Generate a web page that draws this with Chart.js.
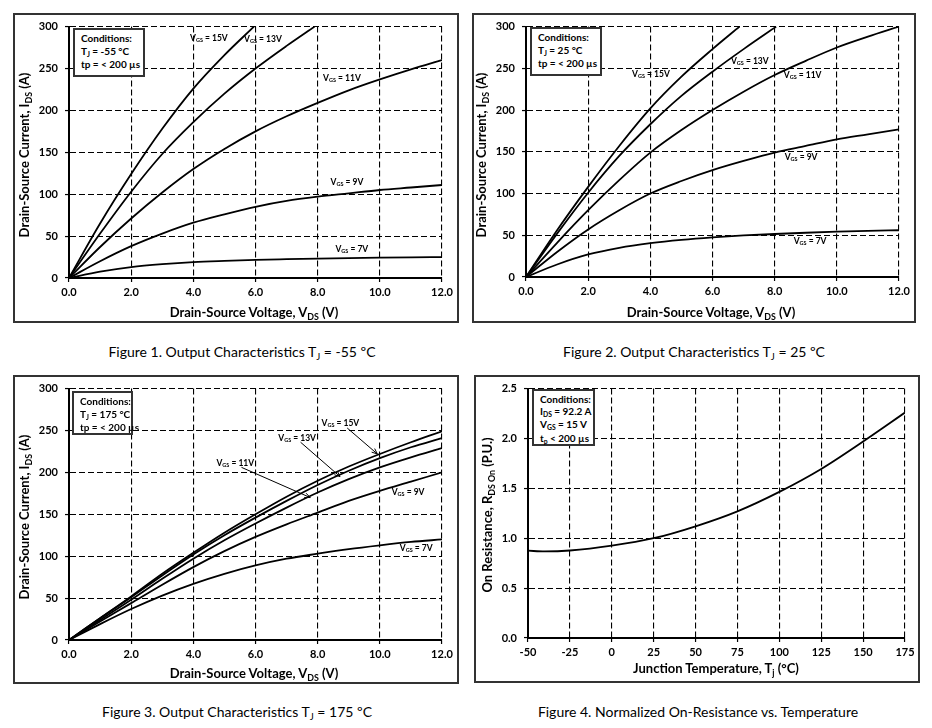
<!DOCTYPE html>
<html><head><meta charset="utf-8">
<script src="https://cdn.jsdelivr.net/npm/chart.js@4.4.0/dist/chart.umd.min.js"></script>
<style>
html,body{margin:0;padding:0;background:#fff;}
body{width:932px;height:728px;position:relative;overflow:hidden;font-family:Lato,sans-serif;color:#000;}
.panel{position:absolute;border:2px solid #333;box-sizing:border-box;}
canvas{position:absolute;}
.cond{position:absolute;border:2px solid #333;background:#fff;box-sizing:border-box;font:bold 10px Lato;line-height:12.5px;padding:2px 0 0 6px;white-space:nowrap;}
.xt{position:absolute;font:bold 13px Lato;transform:translate(-50%,-50%);white-space:nowrap;}
.yt{position:absolute;font:bold 13px Lato;transform:translate(-50%,-50%) rotate(-90deg);white-space:nowrap;}
.cap{position:absolute;font:14px Lato;transform:translate(-50%,-50%);white-space:nowrap;}
.s{font-size:0.68em;position:relative;top:0.3em;}
</style>
</head><body>
<div class="panel" style="left:13px;top:13px;width:446px;height:310px"></div>
<div class="panel" style="left:472px;top:13px;width:444px;height:310px"></div>
<div class="panel" style="left:13px;top:375px;width:446px;height:309px"></div>
<div class="panel" style="left:474px;top:375px;width:446px;height:308px"></div>
<canvas id="c1"></canvas><canvas id="c2"></canvas><canvas id="c3"></canvas><canvas id="c4"></canvas>

<div class="cond" style="left:73px;top:28px;width:72px;height:49px">Conditions:<br>T<span class="s">J</span> = -55 °C<br>tp = &lt; 200 µs</div>
<div class="cond" style="left:530px;top:27px;width:72px;height:49px">Conditions:<br>T<span class="s">J</span> = 25 °C<br>tp = &lt; 200 µs</div>
<div class="cond" style="left:72px;top:391px;width:61px;height:44px;overflow:visible">Conditions:<br>T<span class="s">J</span> = 175 °C<br>tp = &lt; 200 µs</div>
<div class="cond" style="left:532px;top:389px;width:63px;height:57px;line-height:12.2px">Conditions:<br>I<span class="s">DS</span> = 92.2 A<br>V<span class="s">GS</span> = 15 V<br>t<span class="s">p</span> &lt; 200 µs</div>

<div class="xt" style="left:254px;top:312px">Drain-Source Voltage, V<span class="s">DS</span> (V)</div>
<div class="yt" style="left:24px;top:155px">Drain-Source Current, I<span class="s">DS</span> (A)</div>
<div class="xt" style="left:711px;top:312px">Drain-Source Voltage, V<span class="s">DS</span> (V)</div>
<div class="yt" style="left:481px;top:155px">Drain-Source Current, I<span class="s">DS</span> (A)</div>
<div class="xt" style="left:254px;top:673px">Drain-Source Voltage, V<span class="s">DS</span> (V)</div>
<div class="yt" style="left:24px;top:517px">Drain-Source Current, I<span class="s">DS</span> (A)</div>
<div class="xt" style="left:716px;top:668px">Junction Temperature, T<span class="s">j</span> (°C)</div>
<div class="yt" style="left:487px;top:515px">On Resistance, R<span class="s">DS On</span> (P.U.)</div>

<div class="cap" style="left:242px;top:351px">Figure 1. Output Characteristics T<span class="s">J</span> = -55 ºC</div>
<div class="cap" style="left:694px;top:351px">Figure 2. Output Characteristics T<span class="s">J</span> = 25 ºC</div>
<div class="cap" style="left:237px;top:711px">Figure 3. Output Characteristics T<span class="s">J</span> = 175 ºC</div>
<div class="cap" style="left:698px;top:711px">Figure 4. Normalized On-Resistance vs. Temperature</div>

<script>
// ---------- DATA ----------
const vdsTicks = [0, 2, 4, 6, 8, 10, 12];
const idsTicks = [0, 50, 100, 150, 200, 250, 300];
const vds = [0, 1, 2, 3, 4, 5, 6, 7, 8, 9, 10, 11, 12];

// Figure 1: Tj = -55 C
const f1_v15 = [0, 1, 2, 3, 4, 5, 5.95];
const f1_i15 = [0, 65, 124, 178, 226, 266, 300];
const f1_v13 = [0, 1, 2, 3, 4, 5, 6, 7, 7.9];
const f1_i13 = [0, 53, 103, 148, 186, 220, 250, 277, 300];
const f1_i11 = [0, 37, 71, 102, 130, 154, 175, 193, 209, 224, 237, 249, 260];
const f1_i9  = [0, 20, 38, 53, 66, 76, 85, 92, 97, 101, 105, 108, 111];
const f1_i7  = [0, 7.5, 13, 16.5, 19, 20.5, 21.7, 22.5, 23.2, 23.8, 24.3, 24.7, 25];

// Figure 2: Tj = 25 C
const f2_v15 = [0, 1, 2, 3, 4, 5, 6, 6.87];
const f2_i15 = [0, 56, 108, 157, 202, 240, 273, 300];
const f2_v13 = [0, 1, 2, 3, 4, 5, 6, 7, 8.05];
const f2_i13 = [0, 52, 101, 145, 183, 217, 246, 273, 300];
const f2_i11 = [0, 41, 80, 116, 149, 176, 200, 222, 242, 259, 275, 288, 300];
const f2_i9  = [0, 30, 57, 80, 100, 115, 128, 139, 149, 157, 165, 171, 177];
const f2_i7  = [0, 15, 27, 35, 40.5, 44.5, 47.5, 49.8, 51.5, 53, 54.3, 55.3, 56];

// Figure 3: Tj = 175 C
const f3_i15 = [0, 26, 52, 79, 104, 128, 150, 171, 190, 207, 222, 236, 249];
const f3_i13 = [0, 26, 51, 77, 102, 125, 146, 166, 185, 202, 217, 230, 241];
const f3_i11 = [0, 24, 48, 73, 97, 119, 139, 158, 176, 192, 206, 218, 229];
const f3_i9  = [0, 22, 44, 66, 87, 106, 123, 138, 152, 166, 178, 189, 200];
const f3_i7  = [0, 19, 37, 53, 67, 79, 89, 97, 103, 108.5, 113, 117, 120];

// Figure 4: normalized on-resistance
const f4_temp = [-50, -40, -25, 0, 25, 50, 75, 100, 125, 150, 175];
const f4_rdson = [0.875, 0.868, 0.877, 0.925, 1.0, 1.12, 1.27, 1.465, 1.695, 1.97, 2.26];
const tempTicks = [-50, -25, 0, 25, 50, 75, 100, 125, 150, 175];
const rTicks = [0, 0.5, 1.0, 1.5, 2.0, 2.5];

const vgsNames = ['15V', '13V', '11V', '9V', '7V'];

// ---------- helpers ----------
function pts(xs, ys) { return xs.map((x, i) => ({ x: x, y: ys[i] })); }
function ds(xs, ys) {
  return { data: pts(xs, ys), borderColor: '#000', borderWidth: 1.8, pointRadius: 0,
           cubicInterpolationMode: 'monotone', fill: false };
}

const labelPlugin = {
  id: 'curveLabels',
  afterDatasetsDraw(chart, args, opts) {
    const items = opts.items || [];
    const ctx = chart.ctx, xs = chart.scales.x, ys = chart.scales.y;
    ctx.save();
    ctx.fillStyle = '#000'; ctx.strokeStyle = '#000';
    for (const it of items) {
      if (it.arrow) {
        const a = it.arrow;
        const x1 = xs.getPixelForValue(a[0]), y1 = ys.getPixelForValue(a[1]);
        const x2 = xs.getPixelForValue(a[2]), y2 = ys.getPixelForValue(a[3]);
        ctx.lineWidth = 1;
        ctx.beginPath(); ctx.moveTo(x1, y1); ctx.lineTo(x2, y2); ctx.stroke();
        const ang = Math.atan2(y2 - y1, x2 - x1), L = 6;
        ctx.beginPath();
        ctx.moveTo(x2 - L * Math.cos(ang - 0.4), y2 - L * Math.sin(ang - 0.4));
        ctx.lineTo(x2, y2);
        ctx.lineTo(x2 - L * Math.cos(ang + 0.4), y2 - L * Math.sin(ang + 0.4));
        ctx.stroke();
      }
      const px = xs.getPixelForValue(it.x), py = ys.getPixelForValue(it.y);
      const big = 'bold 8.5px Lato', small = 'bold 5.5px Lato';
      const t1 = 'V', t2 = 'GS', t3 = ' = ' + it.t;
      ctx.font = big; const w1 = ctx.measureText(t1).width, w3 = ctx.measureText(t3).width;
      ctx.font = small; const w2 = ctx.measureText(t2).width;
      let x = px - (w1 + w2 + w3) / 2;
      ctx.textBaseline = 'middle'; ctx.textAlign = 'left';
      ctx.font = big; ctx.fillText(t1, x, py); x += w1;
      ctx.font = small; ctx.fillText(t2, x, py + 2); x += w2;
      ctx.font = big; ctx.fillText(t3, x, py);
    }
    ctx.restore();
  }
};

function makeChart(id, rect, area, xCfg, yCfg, datasets, labels) {
  const cv = document.getElementById(id);
  cv.width = rect.w; cv.height = rect.h;
  cv.style.left = rect.x + 'px'; cv.style.top = rect.y + 'px';
  const padTop = area.t - rect.y, padRight = rect.x + rect.w - area.r;
  const yW = area.l - rect.x, xH = rect.y + rect.h - area.b;
  const gridCommon = { color: '#000', lineWidth: 1.1, tickLength: 4, tickColor: '#000', tickWidth: 1.2 };
  const borderCommon = { display: true, color: '#000', width: 2, dash: [6, 3] };
  new Chart(cv, {
    type: 'line',
    data: { datasets: datasets },
    options: {
      responsive: false, animation: false, devicePixelRatio: 1,
      layout: { padding: { top: padTop, right: padRight, left: 0, bottom: 0 } },
      plugins: { legend: { display: false }, tooltip: { enabled: false }, curveLabels: { items: labels } },
      scales: {
        x: {
          type: 'linear', min: xCfg.min, max: xCfg.max,
          afterBuildTicks: s => { s.ticks = xCfg.ticks.map(v => ({ value: v })); },
          ticks: { color: '#000', font: { family: 'Lato', size: 11, weight: 'bold' }, padding: 4,
                   maxRotation: 0, autoSkip: false, callback: xCfg.fmt },
          grid: gridCommon, border: borderCommon,
          afterFit: s => { s.height = xH; }
        },
        y: {
          type: 'linear', min: yCfg.min, max: yCfg.max,
          afterBuildTicks: s => { s.ticks = yCfg.ticks.map(v => ({ value: v })); },
          ticks: { color: '#000', font: { family: 'Lato', size: 11, weight: 'bold' }, padding: 7,
                   autoSkip: false, callback: yCfg.fmt },
          grid: gridCommon, border: borderCommon,
          afterFit: s => { s.width = yW; }
        }
      }
    },
    plugins: [labelPlugin]
  });
}

const xV = { min: 0, max: 12, ticks: vdsTicks, fmt: v => Number(v).toFixed(1) };
const yI = { min: 0, max: 300, ticks: idsTicks, fmt: v => String(v) };

makeChart('c1', { x: 13, y: 13, w: 446, h: 310 }, { l: 69, r: 442, t: 25, b: 278 }, xV, yI, [
  ds(f1_v15, f1_i15), ds(f1_v13, f1_i13), ds(vds, f1_i11), ds(vds, f1_i9), ds(vds, f1_i7)
], [
  { x: 4.5, y: 286, t: vgsNames[0] }, { x: 6.24, y: 285, t: vgsNames[1] },
  { x: 8.78, y: 238, t: vgsNames[2] }, { x: 8.94, y: 114, t: vgsNames[3] },
  { x: 9.1, y: 34, t: vgsNames[4] }
]);

makeChart('c2', { x: 472, y: 13, w: 444, h: 310 }, { l: 526, r: 899, t: 24, b: 277 }, xV, yI, [
  ds(f2_v15, f2_i15), ds(f2_v13, f2_i13), ds(vds, f2_i11), ds(vds, f2_i9), ds(vds, f2_i7)
], [
  { x: 4.02, y: 243, t: vgsNames[0] }, { x: 7.2, y: 258, t: vgsNames[1] },
  { x: 8.9, y: 242, t: vgsNames[2] }, { x: 8.85, y: 143, t: vgsNames[3] },
  { x: 9.14, y: 43, t: vgsNames[4] }
]);

makeChart('c3', { x: 13, y: 375, w: 446, h: 309 }, { l: 69, r: 442, t: 387, b: 640 }, xV, yI, [
  ds(vds, f3_i15), ds(vds, f3_i13), ds(vds, f3_i11), ds(vds, f3_i9), ds(vds, f3_i7)
], [
  { x: 8.73, y: 259, t: vgsNames[0], arrow: [8.95, 253, 9.92, 222] },
  { x: 7.34, y: 241, t: vgsNames[1], arrow: [7.45, 236, 8.72, 195] },
  { x: 5.35, y: 211, t: vgsNames[2], arrow: [5.55, 206, 7.76, 170] },
  { x: 10.91, y: 176, t: vgsNames[3] }, { x: 11.17, y: 109, t: vgsNames[4] }
]);

makeChart('c4', { x: 474, y: 375, w: 446, h: 308 }, { l: 528, r: 905, t: 385, b: 638 },
  { min: -50, max: 175, ticks: tempTicks, fmt: v => String(v) },
  { min: 0, max: 2.5, ticks: rTicks, fmt: v => Number(v).toFixed(1) },
  [ds(f4_temp, f4_rdson)], []);
</script>
</body></html>
